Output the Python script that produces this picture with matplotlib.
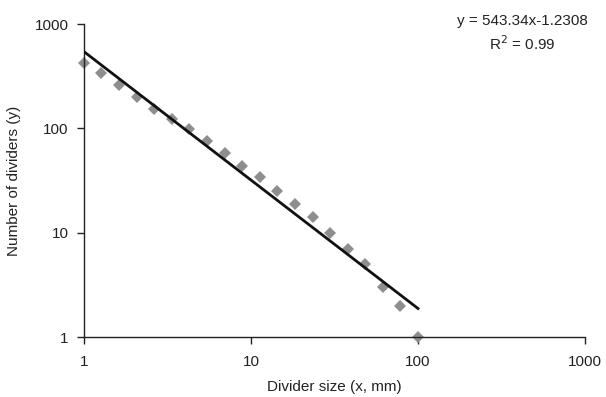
import matplotlib
matplotlib.use("Agg")
import matplotlib.pyplot as plt
import numpy as np
from matplotlib.ticker import FixedLocator, FixedFormatter, NullLocator

plt.rcParams['font.family'] = ['Liberation Sans', 'DejaVu Sans']

# Data
divider_size = [1, 1.27, 1.62, 2.07, 2.64, 3.36, 4.28, 5.46, 6.95, 8.86,
                11.3, 14.4, 18.3, 23.4, 29.8, 37.9, 48.3, 61.6, 78.5, 100]
num_dividers = [426, 337, 260, 198, 153, 122, 99, 75, 58, 44,
                34, 25, 19, 14, 10, 7, 5, 3, 2, 1]
fit_coef = 543.34
fit_exp = -1.2308
fit_text = ["y = 543.34x-1.2308", "R$^2$ = 0.99"]
x_ticks = [1, 10, 100, 1000]
y_ticks = [1, 10, 100, 1000]
x_label = "Divider size (x, mm)"
y_label = "Number of dividers (y)"

fig = plt.figure(figsize=(6.06, 3.97), dpi=100)
ax = fig.add_axes([0.1386, 0.1511, 0.8267, 0.7884])

ax.set_xscale('log')
ax.set_yscale('log')

ax.plot(divider_size, num_dividers, linestyle='none', marker='D',
        markersize=6.5, color='#8e8e8e', markeredgewidth=0, zorder=2, clip_on=False)

xs = np.array([divider_size[0], divider_size[-1]])
ax.plot(xs, fit_coef * xs ** fit_exp, color='#111111', linewidth=2.0, zorder=3)

ax.set_xlim(1, 1000)
ax.set_ylim(1, 1000)

ax.xaxis.set_major_locator(FixedLocator(x_ticks))
ax.xaxis.set_major_formatter(FixedFormatter([str(t) for t in x_ticks]))
ax.yaxis.set_major_locator(FixedLocator(y_ticks))
ax.yaxis.set_major_formatter(FixedFormatter([str(t) for t in y_ticks]))
ax.xaxis.set_minor_locator(NullLocator())
ax.yaxis.set_minor_locator(NullLocator())

for s in ['top', 'right']:
    ax.spines[s].set_visible(False)
for s in ['left', 'bottom']:
    ax.spines[s].set_linewidth(1.0)
    ax.spines[s].set_color('#222222')

ax.tick_params(axis='both', direction='out', length=5, width=1.0,
               color='#222222', labelsize=11, labelcolor='#222222', pad=8)
ax.tick_params(axis='y', pad=6)

ax.set_xlabel(x_label, fontsize=11, color='#222222', labelpad=8)
ax.set_ylabel(y_label, fontsize=11, color='#222222', labelpad=10)

fig.text(0.862, 0.947, fit_text[0], ha='center', va='center', fontsize=11, color='#222222')
fig.text(0.862, 0.889, fit_text[1], ha='center', va='center', fontsize=11, color='#222222')

fig.savefig("out.png", dpi=100)
